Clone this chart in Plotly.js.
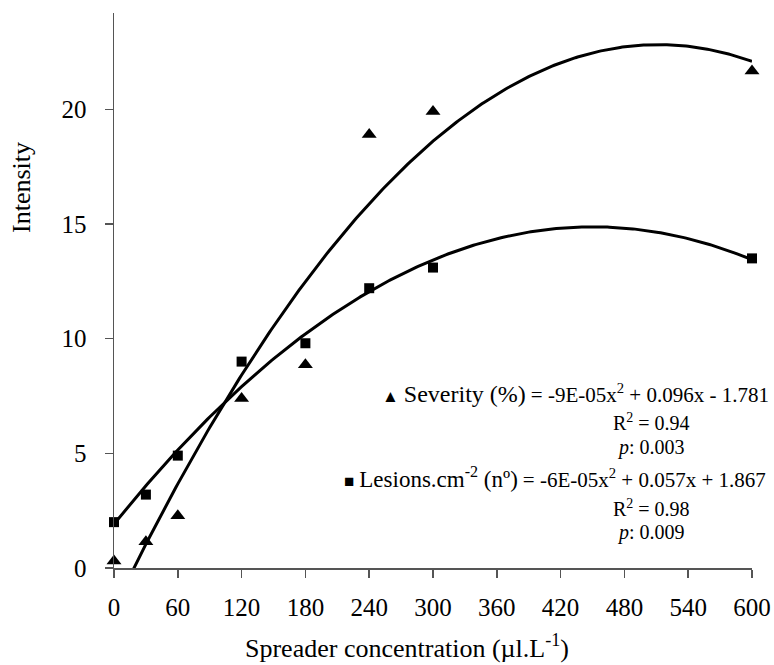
<!DOCTYPE html>
<html>
<head>
<meta charset="utf-8">
<script src="https://cdn.plot.ly/plotly-3.0.1.min.js"></script>
<style>html,body{margin:0;padding:0;background:#fff}#chart{width:774px;height:665px}</style>
</head>
<body>
<div id="chart"></div>
<script>
// Data
const concentration = [0, 30, 60, 120, 180, 240, 300, 600];
const severity = [0.3, 1.15, 2.28, 7.39, 8.86, 18.9, 19.9, 21.67];
const lesions = [2.0, 3.2, 4.9, 9.0, 9.8, 12.2, 13.1, 13.5];
const xTicks = [0, 60, 120, 180, 240, 300, 360, 420, 480, 540, 600];
const yTicks = [0, 5, 10, 15, 20];

// Least-squares quadratic trendline (as a spreadsheet trendline does)
function quadFit(xs, ys) {
  const s = 100;
  let S = [0,0,0,0,0], T = [0,0,0];
  for (let i = 0; i < xs.length; i++) {
    const u = xs[i] / s;
    for (let k = 0; k < 5; k++) S[k] += Math.pow(u, k);
    for (let k = 0; k < 3; k++) T[k] += ys[i] * Math.pow(u, k);
  }
  const A = [[S[0],S[1],S[2],T[0]],[S[1],S[2],S[3],T[1]],[S[2],S[3],S[4],T[2]]];
  for (let c = 0; c < 3; c++) {
    for (let r = c + 1; r < 3; r++) {
      const f = A[r][c] / A[c][c];
      for (let k = c; k < 4; k++) A[r][k] -= f * A[c][k];
    }
  }
  const b = [0,0,0];
  for (let r = 2; r >= 0; r--) {
    let v = A[r][3];
    for (let k = r + 1; k < 3; k++) v -= A[r][k] * b[k];
    b[r] = v / A[r][r];
  }
  return x => b[0] + b[1] * (x / s) + b[2] * (x / s) * (x / s);
}
const fS = quadFit(concentration, severity);
const fL = quadFit(concentration, lesions);
const xs = [];
for (let x = 0; x <= 600; x += 2) xs.push(x);

const traces = [
  {x: xs, y: xs.map(fS), mode: 'lines', line: {color: '#000', width: 3}, hoverinfo: 'skip'},
  {x: xs, y: xs.map(fL), mode: 'lines', line: {color: '#000', width: 3}, hoverinfo: 'skip'},
  {x: concentration, y: severity, mode: 'markers', cliponaxis: false,
   marker: {symbol: 'triangle-up', size: 13, color: '#000'}},
  {x: concentration, y: lesions, mode: 'markers', cliponaxis: false,
   marker: {symbol: 'square', size: 10, color: '#000'}}
];

const serif = 'Liberation Serif, Times New Roman, Times, serif';
const px = v => (v - 114) / 638;
const py = v => (568 - v) / 555;
const annFont = {family: serif, size: 20, color: '#000'};
const annotations = [
  {text: '<span style="font-size:17px">▲</span> <span style="font-size:24px">Severity (%)</span> <span style="font-size:21px">= -9E-05x<sup>2</sup> + 0.096x - 1.781</span>', x: px(771), y: py(393), xanchor: 'right'},
  {text: 'R<sup>2</sup> = 0.94', x: px(651), y: py(422), xanchor: 'center'},
  {text: '<i>p</i>: 0.003', x: px(651), y: py(447), xanchor: 'center'},
  {text: '<span style="font-size:17px">■</span> <span style="font-size:23px">Lesions.cm<sup>-2</sup> (nº)</span> <span style="font-size:21px">= -6E-05x<sup>2</sup> + 0.057x + 1.867</span>', x: px(768), y: py(477), xanchor: 'right'},
  {text: 'R<sup>2</sup> = 0.98', x: px(651), y: py(508), xanchor: 'center'},
  {text: '<i>p</i>: 0.009', x: px(651), y: py(532), xanchor: 'center'},
  {text: 'Spreader concentration (µl.L<sup>-1</sup>)', x: px(407), y: py(647), xanchor: 'center', font: {family: serif, size: 26, color: '#000'}},
  {text: 'Intensity', x: px(21), y: py(187), xanchor: 'center', textangle: -90, font: {family: serif, size: 26, color: '#000'}}
].map(a => Object.assign({xref: 'paper', yref: 'paper', yanchor: 'middle', showarrow: false, font: annFont}, a));

const layout = {
  width: 774, height: 665,
  margin: {l: 114, r: 22, t: 13, b: 97},
  paper_bgcolor: '#fff', plot_bgcolor: '#fff',
  showlegend: false,
  font: {family: serif, color: '#000'},
  xaxis: {
    range: [0, 600], tickvals: xTicks, ticktext: xTicks.map(String),
    showgrid: false, zeroline: false, showline: true, linecolor: '#555', linewidth: 1.5,
    ticks: 'outside', ticklen: 8, tickcolor: '#555', tickwidth: 1.5, ticklabelstandoff: 8,
    tickfont: {family: serif, size: 25, color: '#000'}
  },
  yaxis: {
    range: [0, 24.2], tickvals: yTicks, ticktext: yTicks.map(String),
    showgrid: false, zeroline: false, showline: true, linecolor: '#555', linewidth: 1.5,
    ticks: 'outside', ticklen: 8, tickcolor: '#555', tickwidth: 1.5, ticklabelstandoff: 13,
    tickfont: {family: serif, size: 25, color: '#000'}
  },
  annotations: annotations
};
Plotly.newPlot('chart', traces, layout, {displayModeBar: false, staticPlot: true});
</script>
</body>
</html>
